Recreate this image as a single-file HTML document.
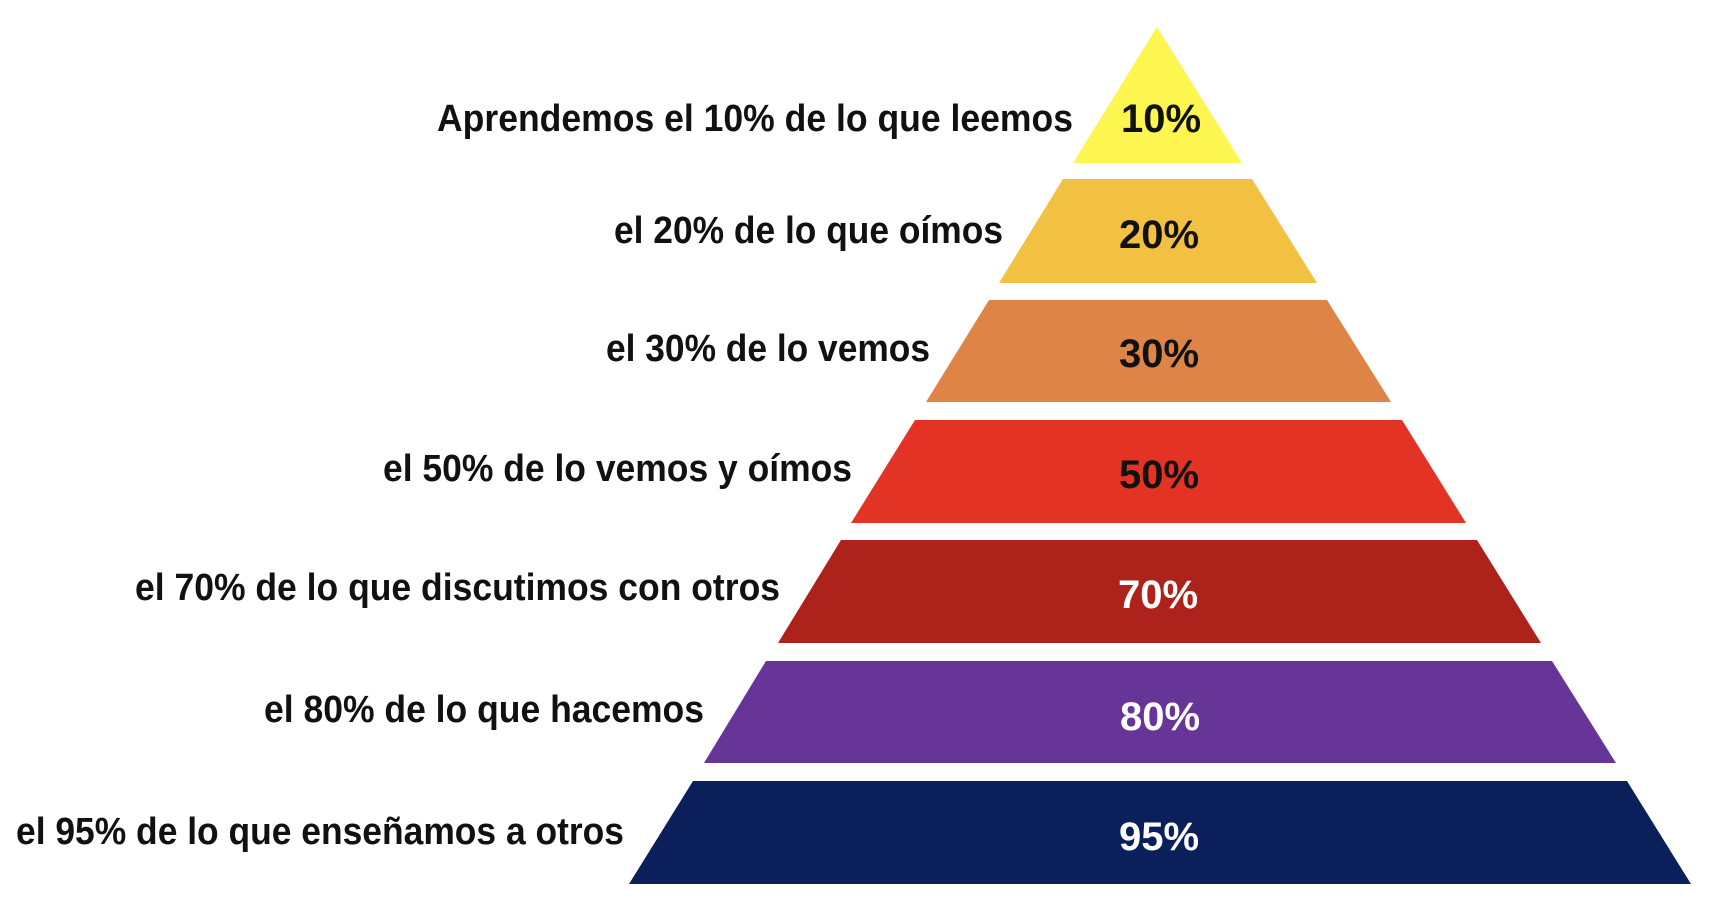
<!DOCTYPE html>
<html><head><meta charset="utf-8"><style>
html,body{margin:0;padding:0;background:#fff;}
svg{display:block;}
.l{font-family:"Liberation Sans Narrow","Liberation Sans",sans-serif;font-weight:bold;font-size:38px;fill:#111;}
.p{font-family:"Liberation Sans",sans-serif;font-weight:bold;font-size:40px;}
</style></head><body>
<svg width="1714" height="903" viewBox="0 0 1714 903" xmlns="http://www.w3.org/2000/svg">
<rect width="1714" height="903" fill="#fff"/>
<polygon points="1157,27 1242,163 1073,163" fill="#fdf550"/>
<polygon points="1063,179 1252,179 1317,283 999,283" fill="#f3c142"/>
<polygon points="989,300 1327,300 1391,402 926,402" fill="#de8447"/>
<polygon points="915,420 1402,420 1466,523 851,523" fill="#e33325"/>
<polygon points="841,540 1477,540 1541,643 778,643" fill="#ad231b"/>
<polygon points="766,661 1552,661 1616,763 704,763" fill="#673597"/>
<polygon points="693,781 1627,781 1691,884 629,884" fill="#0b1f5a"/>

<g class="l" text-anchor="end">
<text x="1073" y="131" textLength="636" lengthAdjust="spacingAndGlyphs">Aprendemos el 10% de lo que leemos</text>
<text x="1003" y="243" textLength="389" lengthAdjust="spacingAndGlyphs">el 20% de lo que oímos</text>
<text x="930" y="361" textLength="324" lengthAdjust="spacingAndGlyphs">el 30% de lo vemos</text>
<text x="852" y="481" textLength="469" lengthAdjust="spacingAndGlyphs">el 50% de lo vemos y oímos</text>
<text x="780" y="600" textLength="645" lengthAdjust="spacingAndGlyphs">el 70% de lo que discutimos con otros</text>
<text x="704" y="722" textLength="440" lengthAdjust="spacingAndGlyphs">el 80% de lo que hacemos</text>
<text x="624" y="844" textLength="608" lengthAdjust="spacingAndGlyphs">el 95% de lo que enseñamos a otros</text>
</g>
<g class="p" text-anchor="middle">
<text x="1161" y="132" fill="#111">10%</text>
<text x="1159" y="248" fill="#111">20%</text>
<text x="1159" y="367" fill="#111">30%</text>
<text x="1159" y="488" fill="#111">50%</text>
<text x="1158" y="608" fill="#fff">70%</text>
<text x="1160" y="730" fill="#fff">80%</text>
<text x="1159" y="850" fill="#fff">95%</text>
</g>
</svg>
</body></html>
